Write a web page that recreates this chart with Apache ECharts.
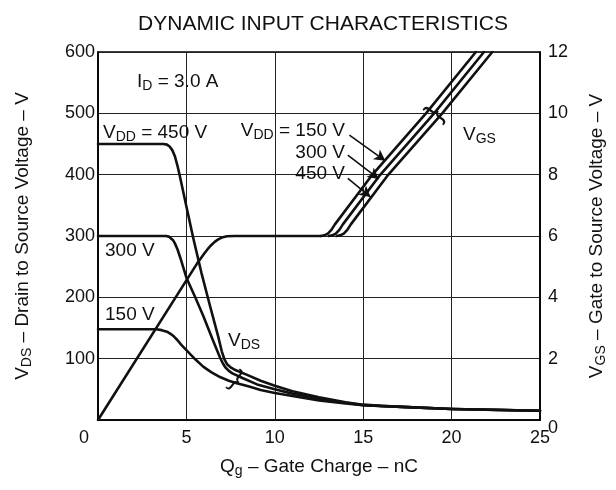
<!DOCTYPE html>
<html><head><meta charset="utf-8">
<script src="https://cdn.jsdelivr.net/npm/echarts@6/dist/echarts.min.js"></script>
<style>html,body{margin:0;padding:0;background:#fff}#c{width:616px;height:490px}</style>
</head><body><div id="c"></div>
<script>
// ---- data ----
const qTicks = [0, 5, 10, 15, 20, 25];            // nC
const vdsTicks = [0, 100, 200, 300, 400, 500, 600]; // V
const vgsTicks = [0, 2, 4, 6, 8, 10, 12];           // V

// VDS curves (left axis)
const q450 = [0, 3.7, 3.9, 4.05, 4.2, 4.35, 4.5, 4.65, 5.0, 5.4, 5.85, 6.3, 6.8, 7.0, 7.15, 7.3, 7.5, 7.8, 8.4, 9.2, 10, 11, 12.5, 14, 15, 16, 17.5, 20, 22.5, 25];
const vds450 = [450, 450, 449, 446, 440, 430, 414, 395, 348, 295, 240, 190, 136, 112, 99, 91, 86, 81, 74, 64, 56, 47, 37, 29, 25, 23, 21, 18, 16.5, 15];
const q300 = [0, 3.85, 4.0, 4.1, 4.25, 4.35, 4.5, 4.65, 5.0, 5.5, 5.95, 6.5, 6.9, 7.05, 7.2, 7.4, 7.6, 8.2, 9.0, 10, 11, 12.5, 14, 15, 17.5, 20, 25];
const vds300 = [300, 300, 299, 297, 293, 288, 278, 265, 232, 200, 170, 130, 102, 93, 86, 80, 76, 68, 58, 50, 43, 35, 28, 24, 21, 18, 15];
const q150 = [0, 3.0, 3.3, 3.6, 3.9, 4.1, 4.3, 4.5, 4.7, 5.0, 5.5, 5.95, 6.4, 6.9, 7.4, 7.85, 8.5, 9.2, 10, 11, 12.5, 14, 15, 17.5, 20, 25];
const vds150 = [148, 148, 148, 146.5, 144, 140.5, 136, 130, 123, 114, 99, 87, 78, 70, 64, 60, 55, 49, 44, 39, 32, 27, 24, 21, 18, 15];

// VGS curves (right axis)
const qGate = [0, 5.6, 5.8, 6.0, 6.2, 6.4, 6.6, 6.8, 7.0, 7.3, 7.7, 12.6];
const vgsGate = [0, 5.1, 5.26, 5.42, 5.57, 5.7, 5.81, 5.89, 5.95, 5.99, 6.0, 6.0];
const qRise150 = [12.6, 12.8, 13.0, 13.2, 13.4, 15.45, 18.55, 21.37];
const qRise300 = [13.05, 13.25, 13.45, 13.65, 13.85, 15.9, 19.01, 21.83];
const qRise450 = [13.5, 13.7, 13.9, 14.1, 14.3, 16.35, 19.47, 22.3];
const vgsRise = [6.0, 6.02, 6.08, 6.2, 6.38, 7.95, 10.0, 12.0];

const FONT = '"Liberation Sans", Arial, Helvetica, sans-serif';
const INK = '#111';

function pairs(xs, ys) { return xs.map((x, i) => [x, ys[i]]); }

const lineStyle = { color: INK, width: 2.6, join: 'round', cap: 'round' };
function curve(name, xs, ys, axis) {
  return {
    name, type: 'line', yAxisIndex: axis, data: pairs(xs, ys),
    showSymbol: false, smooth: false,
    lineStyle, silent: true, z: 3
  };
}

const rich = {
  m: { fontSize: 19, fontFamily: FONT, color: INK, lineHeight: 22 },
  s: { fontSize: 14, fontFamily: FONT, color: INK, lineHeight: 21, verticalAlign: 'bottom' }
};
const grich = {
  m: { fontSize: 19, fontFamily: FONT, fill: INK, lineHeight: 22 },
  s: { fontSize: 14, fontFamily: FONT, fill: INK, lineHeight: 21, verticalAlign: 'bottom' }
};

function label(text, x, y, align) {
  return {
    type: 'text', x, y, z: 10,
    style: { text, rich: grich, font: '19px ' + FONT, fill: INK, align: align || 'left', verticalAlign: 'middle' }
  };
}

const chart = echarts.init(document.getElementById('c'), null, { renderer: 'canvas' });

const vgsSeries150 = curve('VGS 150', qRise150, vgsRise, 1);
vgsSeries150.markLine = {
  silent: true, symbol: ['none', 'arrow'], symbolSize: [9, 11],
  label: { show: false },
  lineStyle: { color: INK, width: 1.6, type: 'solid' },
  data: [
    [{ coord: [14.22, 9.29] }, { coord: [16.25, 8.45] }],
    [{ coord: [14.13, 8.64] }, { coord: [15.88, 7.86] }],
    [{ coord: [14.13, 7.88] }, { coord: [15.42, 7.27] }]
  ]
};

chart.setOption({
  backgroundColor: '#fff',
  animation: false,
  title: {
    text: 'DYNAMIC INPUT CHARACTERISTICS',
    left: 318, top: 9, textAlign: 'center',
    textStyle: { fontFamily: FONT, fontSize: 21, fontWeight: 'normal', color: INK }
  },
  grid: { left: 98, right: 75, top: 52, bottom: 70, show: true, borderColor: '#000', borderWidth: 1.6, backgroundColor: 'transparent' },
  xAxis: {
    type: 'value', min: qTicks[0], max: qTicks[qTicks.length - 1], interval: 5,
    axisLine: { show: true, lineStyle: { color: '#000', width: 1.6 } },
    axisTick: { show: false },
    splitLine: { show: true, lineStyle: { color: '#222', width: 1 } },
    axisLabel: {
      margin: 9, color: INK, fontFamily: FONT, fontSize: 18,
      formatter: v => v === 0 ? '{o|0}' : String(v),
      rich: { o: { fontSize: 18, fontFamily: FONT, color: INK, padding: [0, 28, 0, 0] } }
    },
    name: '{m|Q}{s|g}{m| – Gate Charge – nC}', nameLocation: 'middle', nameGap: 36,
    nameTextStyle: { rich }
  },
  yAxis: [
    {
      type: 'value', min: vdsTicks[0], max: vdsTicks[vdsTicks.length - 1], interval: 100,
      axisLine: { show: true, lineStyle: { color: '#000', width: 1.6 } },
      axisTick: { show: false },
      splitLine: { show: true, lineStyle: { color: '#222', width: 1 } },
      axisLabel: { margin: 3, color: INK, fontFamily: FONT, fontSize: 18, formatter: v => v === 0 ? '' : String(v) },
      name: '{m|V}{s|DS}{m| – Drain to Source Voltage – V}', nameLocation: 'middle', nameRotate: 90, nameGap: 64,
      nameTextStyle: { rich }
    },
    {
      type: 'value', position: 'right', min: vgsTicks[0], max: vgsTicks[vgsTicks.length - 1], interval: 2,
      axisLine: { show: true, lineStyle: { color: '#000', width: 1.6 } },
      axisTick: { show: false },
      splitLine: { show: false },
      axisLabel: {
        margin: 8, color: INK, fontFamily: FONT, fontSize: 18,
        formatter: v => v === 0 ? '{o|0}' : String(v),
        rich: { o: { fontSize: 18, fontFamily: FONT, color: INK, padding: [16, 0, 0, 0] } }
      },
      name: '{m|V}{s|GS}{m| – Gate to Source Voltage – V}', nameLocation: 'middle', nameRotate: 90, nameGap: 46,
      nameTextStyle: { rich }
    }
  ],
  series: [
    curve('VDS 450', q450, vds450, 0),
    curve('VDS 300', q300, vds300, 0),
    curve('VDS 150', q150, vds150, 0),
    curve('VGS', qGate, vgsGate, 1),
    vgsSeries150,
    curve('VGS 300', qRise300, vgsRise, 1),
    curve('VGS 450', qRise450, vgsRise, 1)
  ],
  graphic: [
    label('{m|I}{s|D}{m| = 3.0 A}', 137, 82),
    label('{m|V}{s|DD}{m| = 450 V}', 103, 133),
    label('{m|300 V}', 105, 251),
    label('{m|150 V}', 105, 315),
    label('{m|V}{s|DS}', 228, 341),
    label('{m|V}{s|GS}', 463, 135),
    label('{m|V}{s|DD}{m| = 150 V}', 345, 131, 'right'),
    label('{m|300 V}', 345, 153, 'right'),
    label('{m|450 V}', 345, 174, 'right'),
    { type: 'text', x: 435, y: 114, rotation: 0.93, z: 10,
      style: { text: '}', font: '28px ' + FONT, fill: INK, align: 'center', verticalAlign: 'middle' } },
    { type: 'text', x: 236, y: 380, rotation: -0.64, z: 10,
      style: { text: '}', font: '26px ' + FONT, fill: INK, align: 'center', verticalAlign: 'middle' } }
  ]
});
</script>
</body></html>
